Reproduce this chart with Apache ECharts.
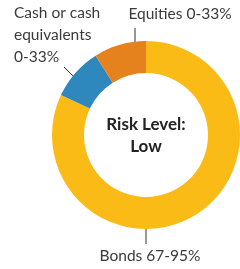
<!DOCTYPE html>
<html><head><meta charset="utf-8">
<script src="https://cdn.jsdelivr.net/npm/echarts@6/dist/echarts.min.js"></script>
<style>html,body{margin:0;padding:0;background:#fff}#c{width:240px;height:269px}</style>
</head><body><div id="c"></div>
<script>
const categories = ['Bonds 67-95%', 'Cash or cash\nequivalents\n0-33%', 'Equities 0-33%'];
const values = [82, 9, 9];
const colors = ['#FBBB16', '#2E87BD', '#E6821E'];
const centerText = 'Risk Level:\nLow';

const labelPos = [
  {x: 150, y: 256, align: 'center', verticalAlign: 'middle', labelLinePoints: [[146, 222], [146, 233], [146, 244]]},
  {x: 14, y: 35, align: 'left', verticalAlign: 'middle', labelLinePoints: [[64, 67], [71, 74], [79, 81]]},
  {x: 180, y: 14, align: 'center', verticalAlign: 'middle', labelLinePoints: [[135, 28], [135, 38], [135, 48]]}
];

const chart = echarts.init(document.getElementById('c'), null, {renderer: 'canvas'});
chart.setOption({
  animation: false,
  series: [{
    type: 'pie',
    center: [146, 135],
    radius: [62, 94],
    startAngle: 90,
    clockwise: true,
    silent: true,
    data: categories.map((n, i) => ({name: n, value: values[i], itemStyle: {color: colors[i]}})),
    label: {
      show: true,
      formatter: '{b}',
      fontFamily: 'Lato',
      fontSize: 15.5,
      lineHeight: 22,
      color: '#3a3a3a',
      overflow: 'none',
      width: 200
    },
    labelLine: {show: true, lineStyle: {color: '#333', width: 1}},
    labelLayout: function (p) { return labelPos[p.dataIndex]; }
  }],
  graphic: [{
    type: 'text',
    left: 146 - 60, top: 114,
    style: {
      text: centerText, width: 120, align: 'center',
      x: 60, textAlign: 'center',
      font: 'bold 17px Lato', lineHeight: 22, fill: '#222'
    }
  }]
});
</script></body></html>
